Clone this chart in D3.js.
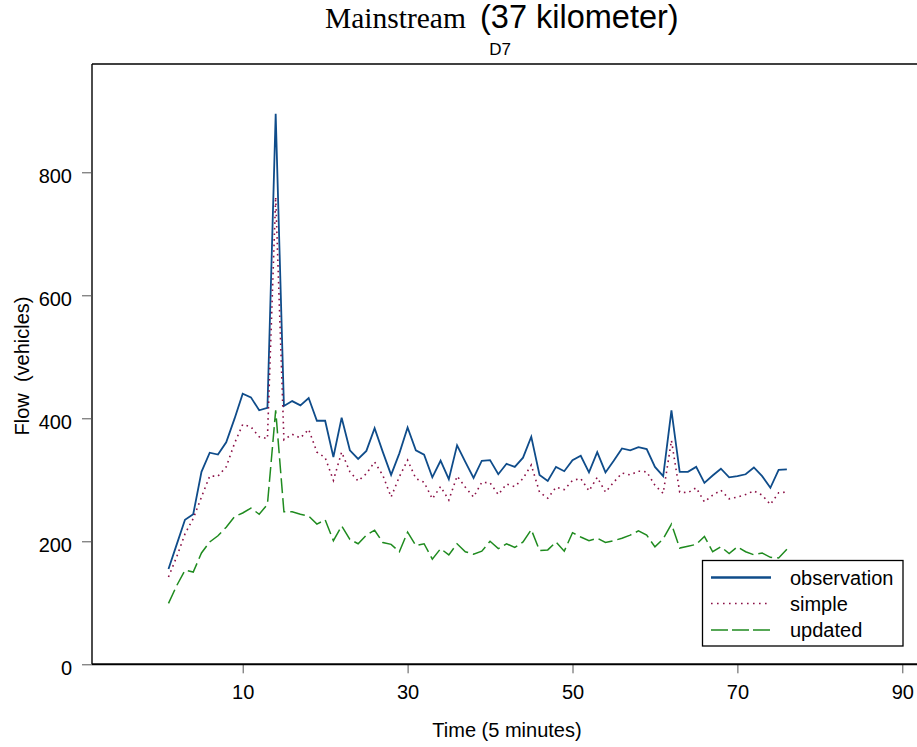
<!DOCTYPE html>
<html>
<head>
<meta charset="utf-8">
<script src="https://cdn.jsdelivr.net/npm/d3@7"></script>
<style>
  html, body { margin: 0; padding: 0; background: #fff; }
  svg { display: block; }
  text { font-family: "Liberation Sans", Arial, sans-serif; fill: #000; }
</style>
</head>
<body>
<svg id="chart" width="917" height="747"></svg>
<script>
// Time index (5-minute intervals)
const timeSteps = d3.range(1, 77);

// Observed mainstream flow (vehicles)
const observation = [
  155, 195, 235, 244, 313, 344, 341, 361, 399, 440,
  434, 413, 417, 895, 420, 428, 421, 433, 396, 396,
  337, 401, 348, 334, 347, 384, 345, 308, 343, 385,
  348, 341, 304, 331, 301, 356, 329, 303, 331, 332,
  309, 326, 321, 336, 370, 308, 298, 321, 314, 332,
  339, 312, 345, 312, 331, 351, 348, 353, 350, 321,
  306, 413, 313, 313, 321, 295, 307, 318, 304, 306,
  309, 320, 306, 287, 316, 317
];

// Simple model estimate
const simple = [
  142, 175, 212, 237, 272, 306, 306, 321, 359, 390,
  386, 370, 367, 760, 365, 374, 368, 382, 345, 336,
  299, 345, 313, 298, 310, 329, 307, 272, 305, 332,
  302, 296, 269, 289, 267, 306, 288, 272, 296, 295,
  276, 293, 289, 302, 324, 280, 270, 288, 284, 299,
  302, 282, 304, 280, 296, 311, 308, 314, 313, 291,
  278, 364, 280, 279, 287, 264, 275, 283, 269, 272,
  276, 282, 275, 260, 279, 280
];

// Updated model estimate
const updated = [
  99, 128, 153, 150, 181, 199, 209, 223, 240, 246,
  254, 244, 260, 413, 248, 248, 244, 241, 228, 235,
  201, 225, 203, 196, 210, 218, 198, 195, 183, 215,
  193, 196, 171, 188, 178, 196, 183, 179, 184, 200,
  188, 196, 190, 199, 219, 185, 186, 199, 184, 214,
  207, 201, 205, 198, 201, 205, 210, 217, 210, 191,
  204, 228, 189, 192, 195, 208, 183, 191, 180, 191,
  183, 178, 181, 174, 173, 187
];

const xTicks = [10, 30, 50, 70, 90];
const yTicks = [0, 200, 400, 600, 800];

const seriesNames = ["observation", "simple", "updated"];
const seriesData = [observation, simple, updated];

const svg = d3.select("#chart");

// Plot frame bounds
const frame = { left: 92, right: 917, top: 64, bottom: 664.3 };

const x = d3.scaleLinear().domain([10, 90]).range([242.7, 902.3]);
const y = d3.scaleLinear().domain([0, 800]).range([frame.bottom, 172.3]);

const styles = {
  observation: { stroke: "#0f4c8a", width: 1.8, dash: null },
  simple: { stroke: "#8b1046", width: 1.6, dash: "1.6,4" },
  updated: { stroke: "#1f8b1f", width: 1.5, dash: "15,5" }
};

// Frame: left axis, top rule
svg.append("line").attr("x1", frame.left).attr("x2", frame.left)
  .attr("y1", frame.top).attr("y2", frame.bottom)
  .attr("stroke", "#000").attr("stroke-width", 1.4);
svg.append("line").attr("x1", frame.left).attr("x2", frame.right)
  .attr("y1", frame.top).attr("y2", frame.top)
  .attr("stroke", "#000").attr("stroke-width", 1.6);

// X axis
const xAxis = d3.axisBottom(x).tickValues(xTicks).tickSize(9).tickPadding(12)
  .tickFormat(d3.format("d"));
const gx = svg.append("g").attr("transform", `translate(0,${frame.bottom})`).call(xAxis);
gx.select(".domain").remove();
gx.selectAll(".tick line").attr("stroke", "#555").attr("stroke-width", 1);
gx.selectAll(".tick text").attr("font-size", 20)
  .attr("font-family", "Liberation Sans, Arial, sans-serif").attr("fill", "#000");
svg.append("line").attr("x1", frame.left).attr("x2", frame.right)
  .attr("y1", frame.bottom).attr("y2", frame.bottom)
  .attr("stroke", "#000").attr("stroke-width", 2);

// Y axis
const yAxis = d3.axisLeft(y).tickValues(yTicks).tickSize(10).tickPadding(10)
  .tickFormat(d3.format("d"));
const gy = svg.append("g").attr("transform", `translate(${frame.left},0)`).call(yAxis);
gy.select(".domain").remove();
gy.selectAll(".tick line").attr("stroke", "#555").attr("stroke-width", 1);
gy.selectAll(".tick text").attr("font-size", 20)
  .attr("font-family", "Liberation Sans, Arial, sans-serif")
  .attr("fill", "#000").attr("dy", "0.5em");

// Series lines
const line = d3.line().x((d, i) => x(timeSteps[i])).y(d => y(d));
seriesNames.forEach((name, k) => {
  const s = styles[name];
  svg.append("path")
    .datum(seriesData[k])
    .attr("fill", "none")
    .attr("stroke", s.stroke)
    .attr("stroke-width", s.width)
    .attr("stroke-dasharray", s.dash)
    .attr("stroke-linejoin", "miter")
    .attr("d", line);
});

// Titles
svg.append("text").attr("x", 325).attr("y", 28)
  .style("font-family", "'Liberation Serif', 'Times New Roman', serif")
  .attr("font-size", 29.5).text("Mainstream");
svg.append("text").attr("x", 480).attr("y", 28)
  .attr("font-size", 32.5).text("(37 kilometer)");
svg.append("text").attr("x", 500).attr("y", 55).attr("text-anchor", "middle")
  .attr("font-size", 17).text("D7");

// Axis titles
svg.append("text").attr("x", 507).attr("y", 737).attr("text-anchor", "middle")
  .attr("font-size", 20).text("Time (5 minutes)");
svg.append("text").attr("transform", "translate(29,366) rotate(-90)")
  .attr("text-anchor", "middle").attr("font-size", 20).style("white-space", "pre")
  .text("Flow  (vehicles)");

// Legend
const legend = svg.append("g");
legend.append("rect").attr("x", 702.5).attr("y", 560.5).attr("width", 200.5).attr("height", 85.5)
  .attr("fill", "#fff").attr("stroke", "#000").attr("stroke-width", 1.3);
const rowY = [577.5, 603.5, 630];
seriesNames.forEach((name, k) => {
  const s = styles[name];
  legend.append("line").attr("x1", 711).attr("x2", 771).attr("y1", rowY[k]).attr("y2", rowY[k])
    .attr("stroke", s.stroke).attr("stroke-width", name === "observation" ? 2.6 : s.width)
    .attr("stroke-dasharray", name === "updated" ? "17,4" : (name === "simple" ? "1.6,4.4" : null));
  legend.append("text").attr("x", 790).attr("y", rowY[k] + 7).attr("font-size", 20).text(name);
});
</script>
</body>
</html>
